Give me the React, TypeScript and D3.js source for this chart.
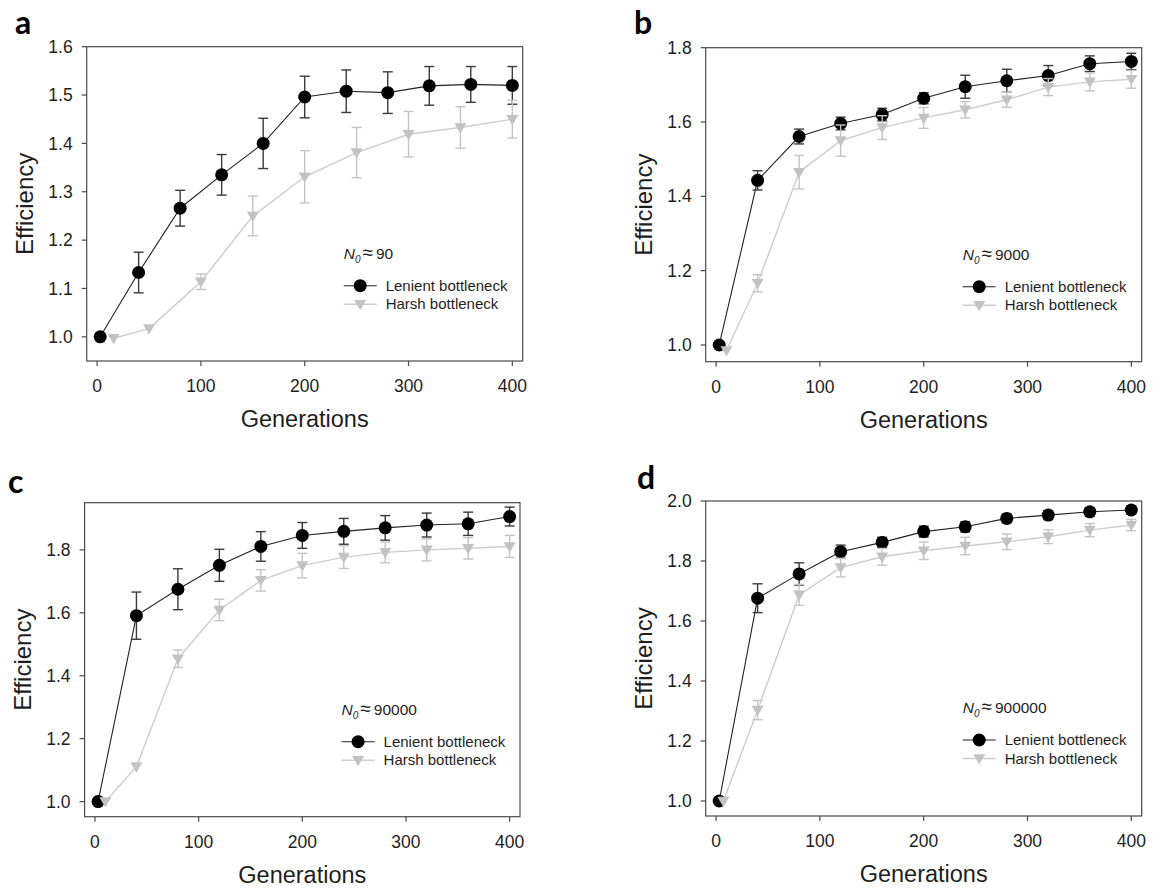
import React from 'react';
import * as d3 from 'd3';

// ---------- DATA ----------
const xTicks = [0, 100, 200, 300, 400];

const genLenient = [3, 40, 80, 120, 160, 200, 240, 280, 320, 360, 400];

// Panel a (N0 ≈ 90)
const lenientA = [1.0, 1.133, 1.266, 1.335, 1.4, 1.496, 1.508, 1.505, 1.519, 1.522, 1.52];
const lenientErrA = [0, 0.042, 0.037, 0.042, 0.052, 0.043, 0.044, 0.043, 0.04, 0.037, 0.039];
const genHarshA = [16, 50, 100, 150, 200, 250, 300, 350, 400];
const harshA = [0.997, 1.017, 1.114, 1.25, 1.331, 1.381, 1.419, 1.433, 1.45];
const harshErrA = [0, 0, 0.016, 0.041, 0.054, 0.052, 0.047, 0.043, 0.039];
const yTicksA = [1.0, 1.1, 1.2, 1.3, 1.4, 1.5, 1.6];

// Panel b (N0 ≈ 9000)
const lenientB = [1.0, 1.443, 1.561, 1.596, 1.62, 1.664, 1.695, 1.711, 1.725, 1.757, 1.763];
const lenientErrB = [0, 0.026, 0.02, 0.017, 0.017, 0.015, 0.031, 0.031, 0.027, 0.021, 0.022];
const genHarshB = [10, 40, 80, 120, 160, 200, 240, 280, 320, 360, 400];
const harshB = [0.985, 1.166, 1.465, 1.55, 1.585, 1.611, 1.633, 1.66, 1.694, 1.708, 1.715];
const harshErrB = [0, 0.023, 0.045, 0.042, 0.032, 0.028, 0.022, 0.02, 0.023, 0.024, 0.024];
const yTicksB = [1.0, 1.2, 1.4, 1.6, 1.8];

// Panel c (N0 ≈ 90000)
const lenientC = [1.0, 1.591, 1.675, 1.751, 1.811, 1.846, 1.859, 1.87, 1.879, 1.883, 1.906];
const lenientErrC = [0, 0.075, 0.065, 0.051, 0.047, 0.041, 0.041, 0.039, 0.038, 0.037, 0.03];
const genHarshC = [10, 40, 80, 120, 160, 200, 240, 280, 320, 360, 400];
const harshC = [1.0, 1.111, 1.454, 1.609, 1.703, 1.75, 1.777, 1.792, 1.8, 1.805, 1.811];
const harshErrC = [0, 0, 0.028, 0.034, 0.034, 0.039, 0.036, 0.033, 0.035, 0.034, 0.035];
const yTicksC = [1.0, 1.2, 1.4, 1.6, 1.8];

// Panel d (N0 ≈ 900000)
const lenientD = [1.0, 1.676, 1.757, 1.831, 1.862, 1.898, 1.914, 1.942, 1.953, 1.964, 1.97];
const lenientErrD = [0, 0.048, 0.037, 0.022, 0.017, 0.018, 0.017, 0.015, 0.015, 0.014, 0.014];
const genHarshD = [7, 40, 80, 120, 160, 200, 240, 280, 320, 360, 400];
const harshD = [1.0, 1.303, 1.687, 1.778, 1.814, 1.834, 1.85, 1.864, 1.881, 1.903, 1.92];
const harshErrD = [0, 0.032, 0.035, 0.031, 0.028, 0.029, 0.029, 0.026, 0.023, 0.022, 0.019];
const yTicksD = [1.0, 1.2, 1.4, 1.6, 1.8, 2.0];

const panelLetters = ['a', 'b', 'c', 'd'];
const nLabels = ['90', '9000', '90000', '900000'];
const seriesNames = ['Lenient bottleneck', 'Harsh bottleneck'];
const xTitle = 'Generations';
const yTitle = 'Efficiency';

// ---------- LAYOUT ----------
type PanelCfg = {
  letter: string;
  nLabel: string;
  left: number; right: number; top: number; bottom: number;
  yDomain: [number, number];
  yTicks: number[];
  lenient: number[]; lenientErr: number[];
  genHarsh: number[]; harsh: number[]; harshErr: number[];
  letterX: number; letterY: number;
};

const panels: PanelCfg[] = [
  { letter: panelLetters[0], nLabel: nLabels[0], left: 86.7, right: 522.7, top: 46.7, bottom: 361,
    yDomain: [0.95, 1.6], yTicks: yTicksA, lenient: lenientA, lenientErr: lenientErrA,
    genHarsh: genHarshA, harsh: harshA, harshErr: harshErrA, letterX: 15, letterY: 33.5 },
  { letter: panelLetters[1], nLabel: nLabels[1], left: 705.7, right: 1141.7, top: 47.7, bottom: 361.7,
    yDomain: [0.955, 1.8], yTicks: yTicksB, lenient: lenientB, lenientErr: lenientErrB,
    genHarsh: genHarshB, harsh: harshB, harshErr: harshErrB, letterX: 634, letterY: 33.5 },
  { letter: panelLetters[2], nLabel: nLabels[2], left: 84.6, right: 520, top: 502.7, bottom: 816.7,
    yDomain: [0.952, 1.95], yTicks: yTicksC, lenient: lenientC, lenientErr: lenientErrC,
    genHarsh: genHarshC, harsh: harshC, harshErr: harshErrC, letterX: 8, letterY: 493 },
  { letter: panelLetters[3], nLabel: nLabels[3], left: 705.7, right: 1141.7, top: 501, bottom: 816,
    yDomain: [0.95, 2.0], yTicks: yTicksD, lenient: lenientD, lenientErr: lenientErrD,
    genHarsh: genHarshD, harsh: harshD, harshErr: harshErrD, letterX: 637, letterY: 488.5 },
];

const FONT = "'Liberation Sans', Arial, Helvetica, sans-serif";
const AXIS_COLOR = '#4a4a4a';
const TEXT_COLOR = '#1e1e1e';
const LENIENT_COLOR = '#000000';
const LENIENT_LINE = '#222222';
const LENIENT_ERR = '#3a3a3a';
const HARSH_FILL = '#c2c2c2';
const HARSH_LINE = '#cdcdcd';
const HARSH_ERR = '#c4c4c4';
const TRI = 'M-6,-4.3 L6,-4.3 L0,6 Z';
const CAP = 5;

function Panel({ p }: { p: PanelCfg }) {
  const x = d3.scaleLinear().domain([-10, 410]).range([p.left, p.right]);
  const y = d3.scaleLinear().domain(p.yDomain).range([p.bottom, p.top]);
  const line = d3.line<[number, number]>().x(d => x(d[0])).y(d => y(d[1]));
  const lenPts: [number, number][] = genLenient.map((g, i) => [g, p.lenient[i]]);
  const harPts: [number, number][] = p.genHarsh.map((g, i) => [g, p.harsh[i]]);
  const fmt = d3.format('.1f');
  const cx = (p.left + p.right) / 2;
  const cy = (p.top + p.bottom) / 2;
  const lx = p.left + 257;
  const nY = p.top + 212;
  const r1 = p.top + 239;
  const r2 = p.top + 257.5;

  const errBars = (gens: number[], vals: number[], errs: number[], color: string) =>
    gens.map((g, i) => {
      if (!errs[i]) return null;
      const xx = x(g);
      const y1 = y(vals[i] + errs[i]);
      const y2 = y(vals[i] - errs[i]);
      return (
        <g key={'e' + i} stroke={color} strokeWidth={1.4} fill="none">
          <line x1={xx} x2={xx} y1={y1} y2={y2} />
          <line x1={xx - CAP} x2={xx + CAP} y1={y1} y2={y1} />
          <line x1={xx - CAP} x2={xx + CAP} y1={y2} y2={y2} />
        </g>
      );
    });

  return (
    <g>
      <text x={p.letterX} y={p.letterY} fontFamily="Lato, 'Open Sans', sans-serif" fontWeight="bold" fontSize={32} fill="#000">
        {p.letter}
      </text>
      {/* frame */}
      <rect x={p.left} y={p.top} width={p.right - p.left} height={p.bottom - p.top} fill="#fff" stroke={AXIS_COLOR} strokeWidth={1.2} />
      {/* x ticks */}
      {xTicks.map(t => (
        <g key={'xt' + t}>
          <line x1={x(t)} x2={x(t)} y1={p.bottom} y2={p.bottom + 5} stroke={AXIS_COLOR} strokeWidth={1.2} />
          <text x={x(t)} y={p.bottom + 31} textAnchor="middle" fontFamily={FONT} fontSize={17.5} fill={TEXT_COLOR}>{t}</text>
        </g>
      ))}
      {/* y ticks */}
      {p.yTicks.map(t => (
        <g key={'yt' + t}>
          <line x1={p.left - 5} x2={p.left} y1={y(t)} y2={y(t)} stroke={AXIS_COLOR} strokeWidth={1.2} />
          <text x={p.left - 14} y={y(t)} dy="0.35em" textAnchor="end" fontFamily={FONT} fontSize={17.5} fill={TEXT_COLOR}>{fmt(t)}</text>
        </g>
      ))}
      {/* axis titles */}
      <text x={cx} y={p.bottom + 66} textAnchor="middle" fontFamily={FONT} fontSize={23.5} fill={TEXT_COLOR}>{xTitle}</text>
      <text transform={`translate(${p.left - 54},${cy}) rotate(-90)`} textAnchor="middle" fontFamily={FONT} fontSize={24} fill={TEXT_COLOR}>{yTitle}</text>

      {/* lenient series */}
      <path d={line(lenPts) || ''} fill="none" stroke={LENIENT_LINE} strokeWidth={1.1} />
      {errBars(genLenient, p.lenient, p.lenientErr, LENIENT_ERR)}
      {lenPts.map((d, i) => <circle key={'c' + i} cx={x(d[0])} cy={y(d[1])} r={6.5} fill={LENIENT_COLOR} />)}

      {/* harsh series */}
      <path d={line(harPts) || ''} fill="none" stroke={HARSH_LINE} strokeWidth={1.4} />
      {errBars(p.genHarsh, p.harsh, p.harshErr, HARSH_ERR)}
      {harPts.map((d, i) => <path key={'t' + i} d={TRI} transform={`translate(${x(d[0])},${y(d[1])})`} fill={HARSH_FILL} />)}

      {/* legend */}
      <text x={lx} y={nY} fontFamily={FONT} fontSize={15.5} fill={TEXT_COLOR}>
        <tspan fontStyle="italic">N</tspan>
        <tspan fontStyle="italic" fontSize={10} dy={4}>0</tspan>
        <tspan dy={-4} dx={2} fontSize={19}>{'\u2248'}</tspan>
        <tspan dx={3}>{p.nLabel}</tspan>
      </text>
      <line x1={lx} x2={lx + 33} y1={r1} y2={r1} stroke={LENIENT_LINE} strokeWidth={1.1} />
      <circle cx={lx + 16.5} cy={r1} r={6.5} fill={LENIENT_COLOR} />
      <text x={lx + 42} y={r1} dy="0.35em" fontFamily={FONT} fontSize={15} fill={TEXT_COLOR}>{seriesNames[0]}</text>
      <line x1={lx} x2={lx + 33} y1={r2} y2={r2} stroke={HARSH_LINE} strokeWidth={1.4} />
      <path d={TRI} transform={`translate(${lx + 16.5},${r2})`} fill={HARSH_FILL} />
      <text x={lx + 42} y={r2} dy="0.35em" fontFamily={FONT} fontSize={15} fill={TEXT_COLOR}>{seriesNames[1]}</text>
    </g>
  );
}

export default function App() {
  return (
    <svg width={1153} height={890} style={{ position: 'absolute', left: 0, top: 0, background: '#fff' }}>
      <rect width={1153} height={890} fill="#fff" />
      {panels.map(p => <Panel key={p.letter} p={p} />)}
    </svg>
  );
}
